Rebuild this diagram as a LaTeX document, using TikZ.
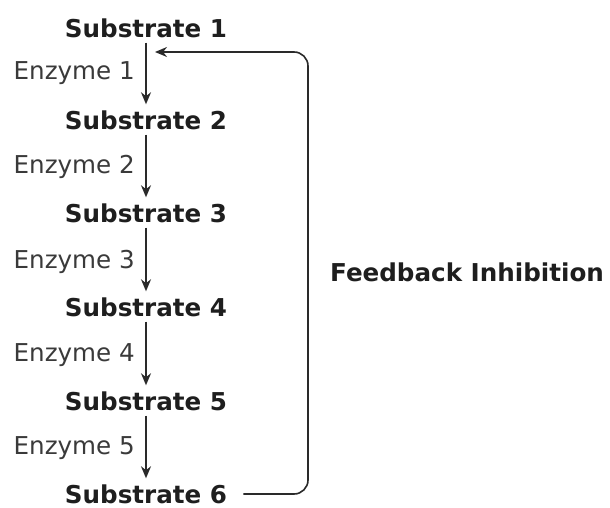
\documentclass[tikz,border=0pt]{standalone}
\usepackage{fontspec}
\setmainfont{DejaVu Sans}
\usetikzlibrary{arrows.meta,calc}
\definecolor{txt}{HTML}{1E1E1E}
\definecolor{enz}{HTML}{3A3A3A}
\definecolor{ln}{HTML}{2A2A2A}
\tikzset{
  sub/.style={inner sep=0pt, text=txt, font=\fontsize{24.6}{28}\selectfont\bfseries},
  enzlab/.style={inner sep=0pt, anchor=east, text=enz, font=\fontsize{24.6}{28}\selectfont},
  fblab/.style={inner sep=0pt, anchor=west, text=txt, font=\fontsize{24.6}{28}\selectfont\bfseries},
  flow/.style={draw=ln, line width=1.6pt, -{Stealth[length=12pt,width=10pt]}, shorten <=5pt, shorten >=6pt},
  fb/.style={draw=ln, line width=1.6pt, -{Stealth[length=12pt,width=10pt]}, rounded corners=14pt}
}
\begin{document}
\begin{tikzpicture}[x=1pt,y=1pt]
\useasboundingbox (0,0) rectangle (610,-508);
\node[sub] (s1) at (146,-28) {Substrate 1};
\node[sub] (s2) at (146,-120) {Substrate 2};
\node[sub] (s3) at (146,-213) {Substrate 3};
\node[sub] (s4) at (146,-307) {Substrate 4};
\node[sub] (s5) at (146,-401) {Substrate 5};
\node[sub] (s6) at (146,-494) {Substrate 6};
\draw[flow] (s1) -- (s2);
\draw[flow] (s2) -- (s3);
\draw[flow] (s3) -- (s4);
\draw[flow] (s4) -- (s5);
\draw[flow] (s5) -- (s6);
\node[enzlab] (e1) at (135,-73) {Enzyme 1};
\node[enzlab] (e2) at (135,-167) {Enzyme 2};
\node[enzlab] (e3) at (135,-262) {Enzyme 3};
\node[enzlab] (e4) at (135,-355) {Enzyme 4};
\node[enzlab] (e5) at (135,-448) {Enzyme 5};
\coordinate (fbx) at (308,-272);
\coordinate (tip) at (155,-52);
\node[fblab] (fbt) at (330,-272) {Feedback Inhibition};
\draw[fb] ($(s6.east)+(16,0)$) -- (s6.east -| fbx) -- (tip -| fbx) -- (tip);
\end{tikzpicture}
\end{document}
